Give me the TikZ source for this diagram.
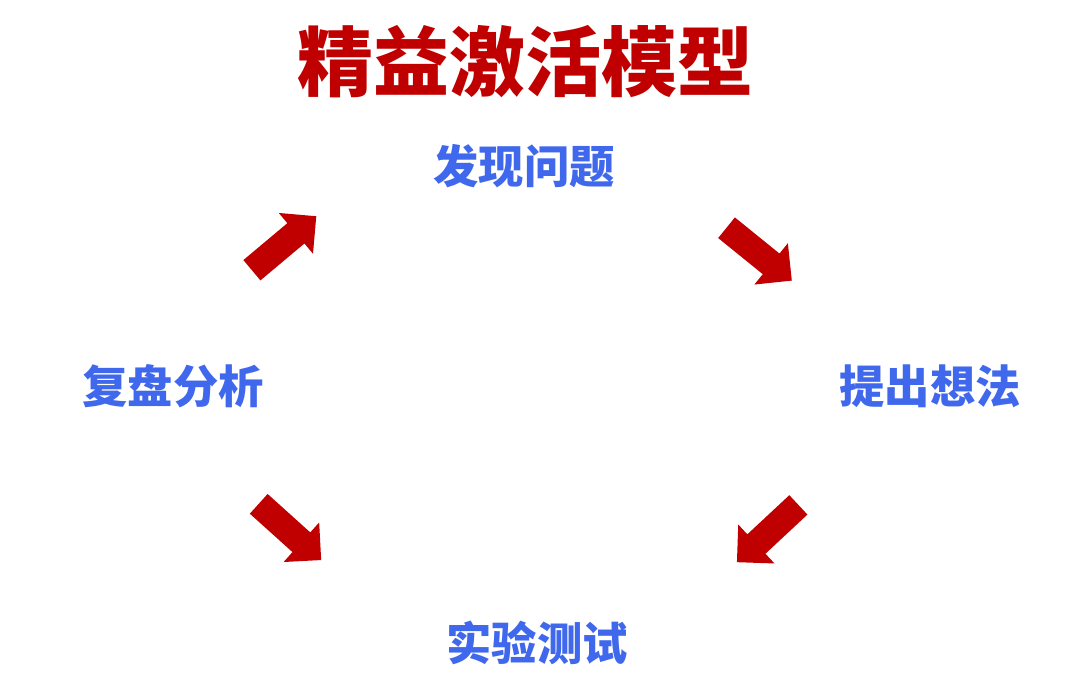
\documentclass[tikz,border=0pt]{standalone}
\usepackage{fontspec}
\newfontfamily\cjk{Noto Sans CJK SC}
\usetikzlibrary{shapes.arrows}
\definecolor{titlered}{RGB}{192,0,0}
\definecolor{stepblue}{RGB}{64,104,236}
\tikzset{
    steptext/.style={font=\cjk\bfseries\fontsize{34}{34}\selectfont, text=stepblue, inner sep=0pt},
    blockarrow/.style={single arrow, fill=titlered, draw=none, inner xsep=0pt, inner ysep=9.75pt,
        minimum height=63pt, single arrow head extend=10pt}
}
\begin{document}
\begin{tikzpicture}[x=0.75pt, y=-0.75pt]
    \useasboundingbox (0,0) rectangle (1080,673);
    \node[font=\cjk\bfseries\fontsize{57}{57}\selectfont, text=titlered, inner sep=0pt]
        (title) at (525,62) {精益激活模型};
    \node[steptext] (find) at (524,166) {发现问题};
    \node[steptext] (idea) at (930,386) {提出想法};
    \node[steptext] (test) at (537,643) {实验测试};
    \node[steptext] (review) at (173,386) {复盘分析};
    \node[blockarrow, rotate=40] (arrowa) at (279,247.5) {};
    \node[blockarrow, rotate=-39] (arrowb) at (754,250) {};
    \node[blockarrow, rotate=223] (arrowc) at (772.5,529) {};
    \node[blockarrow, rotate=-42] (arrowd) at (285,527.5) {};
\end{tikzpicture}
\end{document}
